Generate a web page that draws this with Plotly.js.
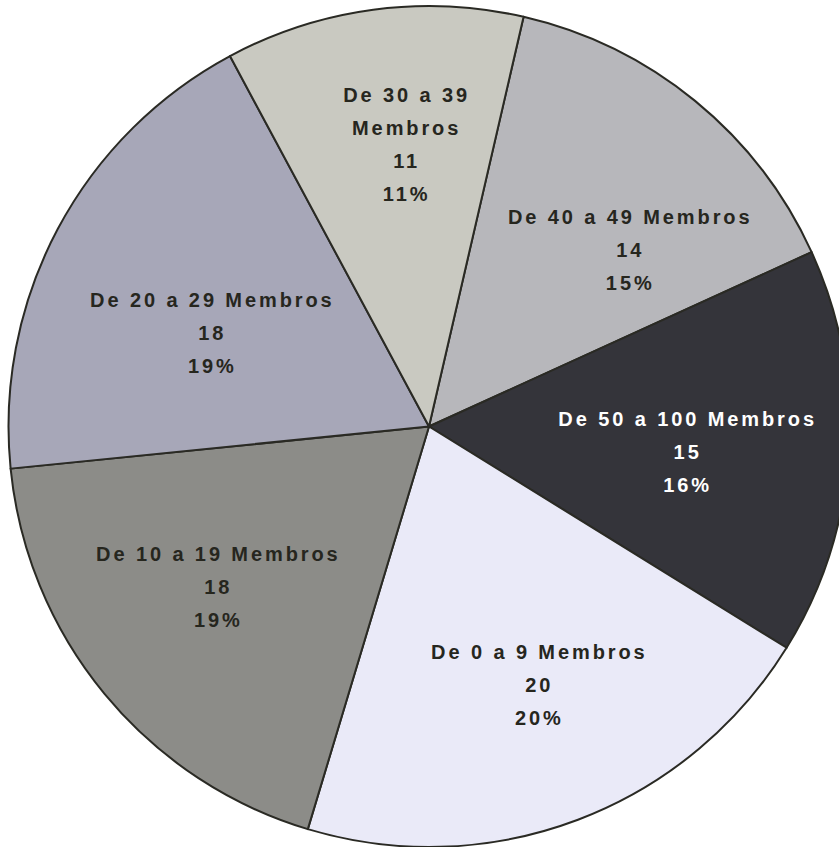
<!DOCTYPE html>
<html>
<head>
<meta charset="utf-8">
<script src="https://cdn.plot.ly/plotly-3.0.1.min.js"></script>
<style>
  html, body { margin: 0; padding: 0; background: #ffffff; overflow: hidden; }
  #chart { width: 858px; height: 847px; }
  .slicetext { letter-spacing: 2.9px; }
</style>
</head>
<body>
<div id="chart"></div>
<script>
// Categories in clockwise order starting just right of 12 o'clock
const categories = ["De 40 a 49 Membros", "De 50 a 100 Membros", "De 0 a 9 Membros",
                    "De 10 a 19 Membros", "De 20 a 29 Membros", "De 30 a 39 Membros"];
const textLabels = ["De 40 a 49 Membros", "De 50 a 100 Membros", "De 0 a 9 Membros",
                    "De 10 a 19 Membros", "De 20 a 29 Membros", "De 30 a 39<br>Membros"];
const counts = [14, 15, 20, 18, 18, 11];
const pctLabels = ["15%", "16%", "20%", "19%", "19%", "11%"];
const sliceColors = ["#b7b7bb", "#34343a", "#eaeaf8", "#8c8c88", "#a7a7b8", "#c9c9c1"];
const textColors = ["#26261e", "#ffffff", "#26261e", "#26261e", "#26261e", "#26261e"];

// Label placement (layout only): each label is drawn by a transparent text-only pie
// with its own radius (px), rotation and small centre offset (px)
const labelRadius   = [386, 380, 375, 412, 367, 383];
const labelRotation = [22.5, 15.1, 10.6, 15.2, 8.3, 16.1];
const labelShiftX   = [0, 21, 18.7, 0, 0, 0];
const labelShiftY   = [0, 25.5, 44, 0, 0, 0];

const PIE_ROTATION = 13;
const PLOT_W = 858, PLOT_H = 841, PIE_R = 420.5;

const fullText = categories.map((c, i) => textLabels[i] + "<br>" + counts[i] + "<br>" + pctLabels[i]);
const font = { family: "Liberation Sans, Arial, sans-serif", size: 20, weight: 700, color: textColors };

function domainFor(rPx, dx, dy) {
  const cx = (PLOT_W / 2 + dx) / PLOT_W;
  const cy = 1 - (PLOT_H / 2 + dy) / PLOT_H;
  const fx = rPx / PLOT_W, fy = rPx / PLOT_H;
  return { x: [Math.max(0, cx - fx), Math.min(1, cx + fx)], y: [Math.max(0, cy - fy), Math.min(1, cy + fy)] };
}

const base = {
  type: "pie",
  labels: categories,
  values: counts,
  sort: false,
  direction: "clockwise",
  hole: 0,
  textposition: "inside",
  insidetextorientation: "horizontal",
  textinfo: "text",
  textfont: font,
  insidetextfont: font,
  hoverinfo: "label+value+percent"
};

const traces = [Object.assign({}, base, {
  rotation: PIE_ROTATION,
  textinfo: "none",
  marker: { colors: sliceColors, line: { color: "#2a2a24", width: 2 } },
  domain: domainFor(PIE_R, 0, 0)
})];

categories.forEach((c, k) => {
  traces.push(Object.assign({}, base, {
    rotation: labelRotation[k],
    text: fullText.map((t, i) => i === k ? t : ""),
    marker: { colors: categories.map(() => "rgba(0,0,0,0)"), line: { width: 0 } },
    domain: domainFor(labelRadius[k], labelShiftX[k], labelShiftY[k])
  }));
});

const layout = {
  width: PLOT_W,
  height: 847,
  margin: { l: 0, r: 0, t: 6, b: 0, pad: 0 },
  paper_bgcolor: "#ffffff",
  showlegend: false,
  uniformtext: { minsize: 20, mode: "show" }
};

function spreadLines() {
  const LS = 1.65, BASE = 1.3;
  document.querySelectorAll("#chart text.slicetext").forEach(t => {
    const lines = t.querySelectorAll("tspan.line");
    const n = lines.length;
    if (n < 2) return;
    const f = -(n - 1) * (LS - BASE) / 2;
    lines.forEach((ln, i) => ln.setAttribute("dy", (f + i * LS) + "em"));
  });
}

Plotly.newPlot("chart", traces, layout, { displayModeBar: false, staticPlot: true }).then(spreadLines);
</script>
</body>
</html>
